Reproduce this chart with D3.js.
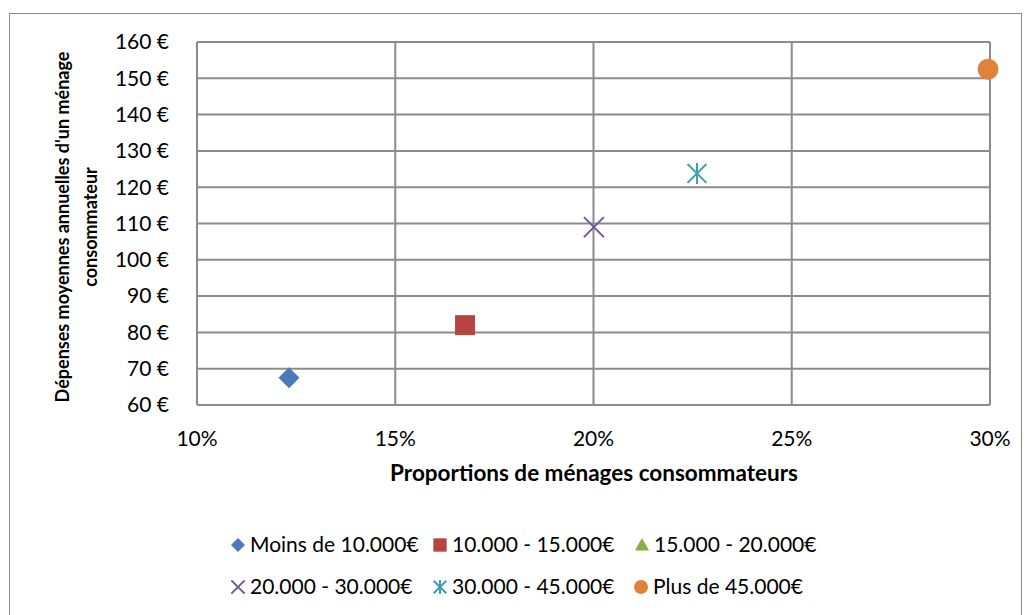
<!DOCTYPE html>
<html><head><meta charset="utf-8">
<script src="https://cdn.jsdelivr.net/npm/d3@7"></script>
<style>body{margin:0;background:#fff;} svg{display:block;font-family:Lato, "Open Sans", sans-serif;}</style>
</head><body>
<svg id="c" width="1027" height="615"></svg>
<script>
const seriesNames = ["Moins de 10.000€","10.000 - 15.000€","15.000 - 20.000€","20.000 - 30.000€","30.000 - 45.000€","Plus de 45.000€"];
const seriesX = [0.1232, 0.1676, null, 0.2001, 0.2261, 0.2995];
const seriesY = [67.5, 82, null, 109, 123.8, 152.5];
const seriesColors = ["#4a7ab8","#b6443f","#8cab4e","#72589a","#3d9fb5","#e0823a"];
const seriesShapes = ["diamond","square","triangle","x","star","circle"];
const xTicks = [0.10,0.15,0.20,0.25,0.30];
const yTicks = [60,70,80,90,100,110,120,130,140,150,160];

const svg = d3.select("#c");
svg.append("rect").attr("x",9.5).attr("y",13.5).attr("width",1012).attr("height",610)
  .attr("fill","#fff").attr("stroke","#8c8c8c").attr("stroke-width",1);

const x = d3.scaleLinear().domain([0.10,0.30]).range([197,990]);
const y = d3.scaleLinear().domain([60,160]).range([405,42]);
const grid = "#8c8c8c";
const g = svg.append("g");
g.selectAll(".vg").data(xTicks).join("line")
  .attr("x1",d=>x(d)).attr("x2",d=>x(d)).attr("y1",y(160)).attr("y2",y(60))
  .attr("stroke",grid).attr("stroke-width",2);
g.selectAll(".hg").data(yTicks).join("line")
  .attr("x1",x(0.10)).attr("x2",x(0.30)).attr("y1",d=>y(d)).attr("y2",d=>y(d))
  .attr("stroke",grid).attr("stroke-width",2);

const fs = 21;
const fmtY = d => d + " €";
svg.selectAll(".yl").data(yTicks).join("text")
  .attr("x",169).attr("y",d=>y(d)).attr("dy","0.35em").attr("text-anchor","end")
  .attr("font-size",fs).attr("fill","#000").text(fmtY);
svg.selectAll(".xl").data(xTicks).join("text")
  .attr("x",d=>x(d)).attr("y",446).attr("text-anchor","middle")
  .attr("font-size",fs).attr("fill","#000").text(d=>Math.round(d*100)+"%");

svg.append("text").attr("x",594).attr("y",481).attr("text-anchor","middle")
  .attr("font-size",22.5).attr("font-weight","bold").text("Proportions de ménages consommateurs");
const yt = svg.append("text").attr("transform","translate(0,227) rotate(-90)")
  .attr("text-anchor","middle").attr("font-size",18).attr("font-weight","bold");
yt.append("tspan").attr("x",0).attr("y",69).text("Dépenses moyennes annuelles d'un ménage");
yt.append("tspan").attr("x",0).attr("y",97).text("consommateur");

function drawMarker(sel, shape, color, size){
  const s = size;
  if(shape==="diamond"){
    sel.append("path").attr("d",`M0,${-s}L${s},0L0,${s}L${-s},0Z`).attr("fill",color);
  } else if(shape==="square"){
    sel.append("rect").attr("x",-s*0.95).attr("y",-s*0.95).attr("width",s*1.9).attr("height",s*1.9).attr("fill",color);
  } else if(shape==="triangle"){
    sel.append("path").attr("d",`M0,${-s}L${s},${s*0.8}L${-s},${s*0.8}Z`).attr("fill",color);
  } else if(shape==="x"){
    const a=s*0.95;
    sel.append("path").attr("d",`M${-a},${-a}L${a},${a}M${-a},${a}L${a},${-a}`).attr("stroke",color).attr("stroke-width",2).attr("fill","none");
  } else if(shape==="star"){
    const a=s*0.9;
    sel.append("path").attr("d",`M${-a},${-a}L${a},${a}M${-a},${a}L${a},${-a}M0,${-s}L0,${s}`).attr("stroke",color).attr("stroke-width",2).attr("fill","none");
  } else {
    sel.append("circle").attr("r",s).attr("fill",color);
  }
}

const pts = seriesNames.map((n,i)=>({n,i,x:seriesX[i],y:seriesY[i]})).filter(d=>d.x!=null);
pts.forEach(d=>{
  const m = svg.append("g").attr("transform",`translate(${x(d.x)},${y(d.y)})`);
  drawMarker(m, seriesShapes[d.i], seriesColors[d.i], 10.5);
});

const legendPos = [[238,545],[440,545],[642,545],[238,587],[440,587],[641,587]];
seriesNames.forEach((n,i)=>{
  const lg = svg.append("g").attr("transform",`translate(${legendPos[i][0]},${legendPos[i][1]})`);
  drawMarker(lg, seriesShapes[i], seriesColors[i], 7);
  lg.append("text").attr("x",12).attr("dy","0.35em").attr("font-size",fs).text(n);
});
</script>
</body></html>
